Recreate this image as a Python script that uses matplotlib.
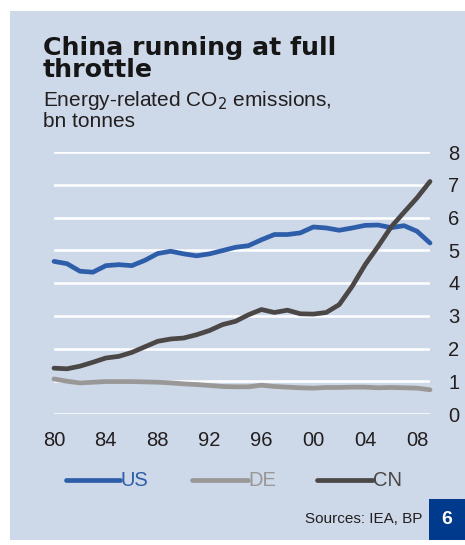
import numpy as np
import matplotlib.pyplot as plt
from matplotlib.lines import Line2D
from matplotlib.patches import Rectangle

plt.rcParams['font.family'] = ['Liberation Sans', 'DejaVu Sans']

# Data (bn tonnes)
years = list(range(1980, 2010))
us = [4.66, 4.59, 4.36, 4.33, 4.53, 4.56, 4.53, 4.69, 4.90, 4.97,
      4.89, 4.83, 4.89, 4.99, 5.09, 5.14, 5.32, 5.48, 5.48, 5.53,
      5.71, 5.68, 5.61, 5.68, 5.76, 5.77, 5.69, 5.75, 5.58, 5.22]
de = [1.07, 1.00, 0.95, 0.97, 0.99, 0.99, 0.99, 0.98, 0.97, 0.95,
      0.92, 0.90, 0.87, 0.84, 0.83, 0.83, 0.88, 0.84, 0.82, 0.80,
      0.79, 0.81, 0.81, 0.82, 0.82, 0.80, 0.81, 0.80, 0.79, 0.74]
cn = [1.40, 1.38, 1.46, 1.58, 1.71, 1.76, 1.88, 2.05, 2.22, 2.29,
      2.32, 2.42, 2.55, 2.73, 2.83, 3.03, 3.19, 3.10, 3.17, 3.06,
      3.05, 3.10, 3.34, 3.90, 4.56, 5.12, 5.71, 6.16, 6.60, 7.10]
xticks = [1980, 1984, 1988, 1992, 1996, 2000, 2004, 2008]
xlabels = ['80', '84', '88', '92', '96', '00', '04', '08']

bg = '#CDD8E8'
c_us = '#2E5EAA'
c_de = '#9A9896'
c_cn = '#4A4746'
W, H = 465, 545

fig = plt.figure(figsize=(W / 100, H / 100), dpi=100)
fig.patch.set_facecolor('white')
fig.add_artist(Rectangle((10 / W, 5 / H), 455 / W, 529 / H, transform=fig.transFigure,
                         facecolor=bg, edgecolor='none', zorder=0))

ax = fig.add_axes([54 / W, (H - 414) / H, 376 / W, 262 / H])
ax.set_facecolor('none')
ax.set_xlim(1980, 2009)
ax.set_ylim(0, 8)
for s in ax.spines.values():
    s.set_visible(False)
ax.set_yticks(range(0, 9))
ax.yaxis.tick_right()
ax.grid(axis='y', color='white', linewidth=1.8)
ax.set_axisbelow(True)
ax.set_xticks(xticks)
ax.set_xticklabels(xlabels)
ax.tick_params(axis='both', length=0, labelsize=14.5, colors='#231F20')
ax.tick_params(axis='y', pad=13)
ax.tick_params(axis='x', pad=12)

lw = 3.4
ax.plot(years, de, color=c_de, lw=lw, solid_capstyle='round', clip_on=False)
ax.plot(years, us, color=c_us, lw=lw, solid_capstyle='round', clip_on=False)
ax.plot(years, cn, color=c_cn, lw=lw, solid_capstyle='round', clip_on=False)

# titles
fig.text(43 / W, 1 - 36 / H, 'China running at full\nthrottle', fontsize=18.2, fontweight='bold',
         family=['DejaVu Sans'], color='#161616', va='top', ha='left', linespacing=0.92)
fig.text(43 / W, 1 - 89 / H, 'Energy-related CO$_2$ emissions,\nbn tonnes', fontsize=15,
         color='#231F20', va='top', ha='left', linespacing=1.0)

# legend
ly = 1 - 480 / H
for x0, x1, col, lab in [(66, 120, c_us, 'US'), (192, 248, c_de, 'DE'), (317, 373, c_cn, 'CN')]:
    fig.add_artist(Line2D([x0 / W, x1 / W], [ly, ly], transform=fig.transFigure, color=col,
                          lw=lw, solid_capstyle='round'))
    fig.text(x1 / W, ly, lab, color=col, fontsize=14.5, va='center', ha='left')

fig.text(422 / W, 1 - 519 / H, 'Sources: IEA, BP', fontsize=11, color='#231F20',
         va='center', ha='right')
fig.add_artist(Rectangle((429 / W, 5 / H), 36 / W, 41 / H, transform=fig.transFigure,
                         facecolor='#003A8C', edgecolor='none'))
fig.text(447 / W, 1 - 520 / H, '6', fontsize=14, fontweight='bold', color='white',
         va='center', ha='center')

fig.savefig('out.png', dpi=100, facecolor='white')
